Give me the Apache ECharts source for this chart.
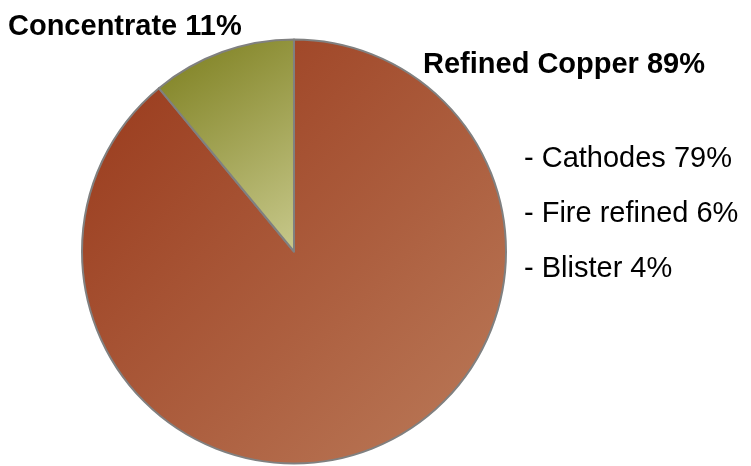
<!DOCTYPE html>
<html><head><meta charset="utf-8">
<script src="https://cdn.jsdelivr.net/npm/echarts@6/dist/echarts.min.js"></script>
<style>html,body{margin:0;padding:0;background:#fff}#c{width:751px;height:466px}</style>
</head><body><div id="c"></div>
<script>
const categories = ['Refined Copper', 'Concentrate'];
const values = [89, 11];
const subCategories = ['Cathodes', 'Fire refined', 'Blister'];
const subValues = [79, 6, 4];

const gradients = [
  ['#983719', '#bb7b5a'],
  ['#7b7d1c', '#c8c98c']
];

const chart = echarts.init(document.getElementById('c'), null, {renderer: 'canvas'});
const font = 'Liberation Sans, Arial, sans-serif';
const texts = [];
texts.push({type: 'text', left: 8, top: 12, style: {text: categories[1] + ' ' + values[1] + '%', font: 'bold 29px ' + font, fill: '#000'}});
texts.push({type: 'text', left: 423, top: 50, style: {text: categories[0] + ' ' + values[0] + '%', font: 'bold 29px ' + font, fill: '#000'}});
const subTops = [144, 199, 254];
subCategories.forEach((c, i) => {
  texts.push({type: 'text', left: 524, top: subTops[i], style: {text: '- ' + c + ' ' + subValues[i] + '%', font: '29px ' + font, fill: '#000'}});
});

chart.setOption({
  animation: false,
  series: [{
    type: 'pie',
    center: [294, 251.5],
    radius: 212,
    startAngle: 90,
    clockwise: true,
    label: {show: false},
    labelLine: {show: false},
    emphasis: {disabled: true},
    data: categories.map((c, i) => ({
      name: c, value: values[i],
      itemStyle: {
        borderColor: '#808080', borderWidth: 2,
        color: new echarts.graphic.LinearGradient(0, 0, 1, 1, [
          {offset: 0, color: gradients[i][0]},
          {offset: 1, color: gradients[i][1]}
        ])
      }
    }))
  }],
  graphic: texts
});
</script></body></html>
